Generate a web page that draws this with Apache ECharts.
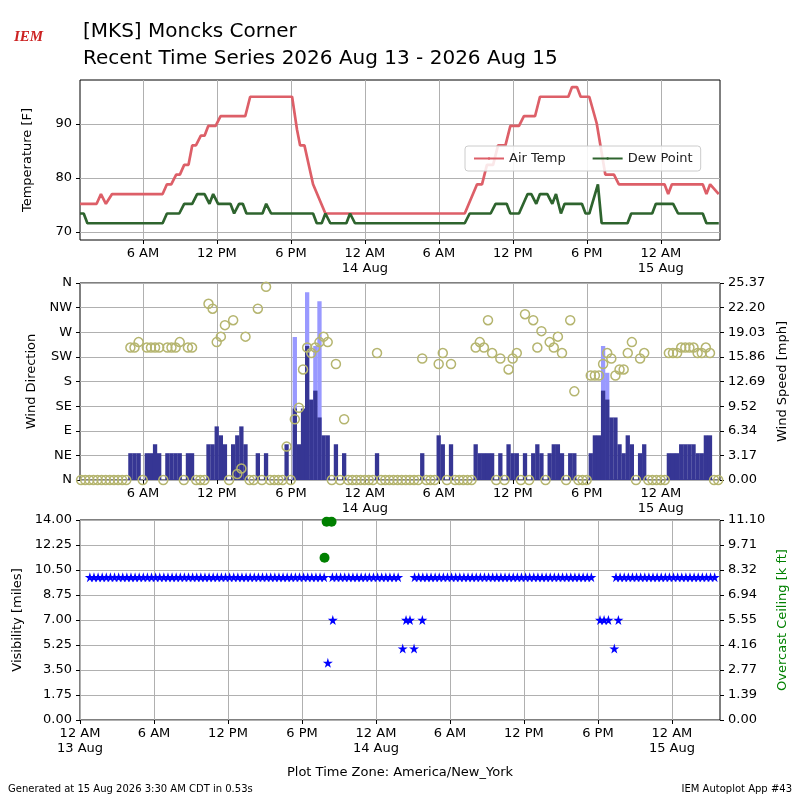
<!DOCTYPE html>
<html>
<head>
<meta charset="utf-8">
<script src="https://cdn.jsdelivr.net/npm/echarts@6/dist/echarts.min.js"></script>
<style>
  html, body { margin: 0; padding: 0; background: #fff; }
  #chart { width: 800px; height: 800px; }
</style>
</head>
<body>
<div id="chart"></div>
<script>
// hours after 13 Aug 00:00 (America/New_York)
const tempHour = [0.9,2.25,2.6,3.0,3.5,7.6,7.95,8.3,8.7,9.0,9.35,9.7,10.0,10.3,10.7,11.0,11.3,11.9,12.3,14.3,14.7,18.1,18.5,18.75,19.1,19.8,20.8,32.1,33.1,33.5,33.9,34.4,34.8,35.4,35.8,36.5,36.9,37.8,38.2,40.5,40.8,41.2,41.5,42.2,42.8,43.5,44.2,44.6,48.3,48.6,48.9,51.4,51.7,52.0,52.7];
const tempF = [75.2,75.2,77,75.2,77,77,78.8,78.8,80.6,80.6,82.4,82.4,86,86,87.8,87.8,89.6,89.6,91.4,91.4,95,95,88.9,86,86,78.8,73.4,73.4,78.8,78.8,82.4,82.4,86,86,89.6,89.6,91.4,91.4,95,95,96.8,96.8,95,95,90.1,80.6,80.6,78.8,78.8,77,78.8,78.8,77,78.8,77];
const dewHour = [0.9,1.2,1.5,7.6,7.95,8.95,9.35,10.0,10.4,11.0,11.4,11.7,12.1,13.1,13.4,13.8,14.1,14.4,15.7,16.0,16.4,19.8,20.1,20.5,20.8,21.2,22.5,22.8,23.2,32.1,32.5,34.2,34.6,35.5,35.8,36.5,37.2,37.5,37.9,38.2,38.8,39.2,39.5,39.9,40.2,41.6,41.9,42.2,42.9,43.2,45.3,45.6,47.3,47.6,49.0,49.4,51.4,51.7,52.7];
const dewF = [73.4,73.4,71.6,71.6,73.4,73.4,75.2,75.2,77,77,75.2,77,75.2,75.2,73.4,75.2,75.2,73.4,73.4,75.2,73.4,73.4,71.6,71.6,73.4,71.6,71.6,73.4,71.6,71.6,73.4,73.4,75.2,75.2,73.4,73.4,77,77,75.2,77,77,75.2,77,73.4,75.2,75.2,73.4,73.4,78.8,71.6,71.6,73.4,73.4,75.2,75.2,73.4,73.4,71.6,71.6];

// wind obs every 20 minutes starting at windStart
const windStart = 0.987;
const windKt = [0,0,0,0,0,0,0,0,0,0,0,0,3,3,3,0,3,3,4,3,0,3,3,3,3,0,3,3,0,0,0,4,4,6,5,4,0,4,5,6,4,0,0,3,0,3,0,0,0,0,4,0,8,4,8,15,9,10,7,5,5,0,4,0,3,0,0,0,0,0,0,0,3,0,0,0,0,0,0,0,0,0,0,3,0,0,0,5,4,0,4,0,0,0,0,0,4,3,3,3,3,0,3,0,4,3,3,0,3,0,3,4,3,0,3,4,4,3,0,3,3,0,0,0,3,5,5,10,9,7,7,4,3,5,4,0,3,4,0,0,0,0,0,3,3,3,4,4,4,4,3,3,5,5,0,0];
const windDir = [0,0,0,0,0,0,0,0,0,0,0,0,242,242,252,0,242,242,242,242,0,242,242,242,252,0,242,242,0,0,0,322,313,252,262,283,0,292,11,21,262,0,0,313,0,353,0,0,0,0,61,0,111,132,202,242,232,242,252,262,252,0,212,0,111,0,0,0,0,0,0,0,232,0,0,0,0,0,0,0,0,0,0,222,0,0,0,212,232,0,212,0,0,0,0,0,242,252,242,292,232,0,222,0,202,222,232,0,303,0,292,242,272,0,252,242,262,232,0,292,162,0,0,0,191,191,191,212,232,222,191,202,202,232,252,0,222,232,0,0,0,0,0,232,232,232,242,242,242,242,232,232,242,232,0,0];
const gustSlot = [52,55,57,58,127,128];
const gustKt = [16,21,15,20,15,12];

// visibility: regular obs every 20 minutes, A = 10 miles, - = missing
const visStart = 0.8;
const visCodes = [
  'AAAAAAAAAAAAAAAAAAAAAAAAAAAAAAAAAAAAAAAAAAAAAAAAAAAAAAAAAA',
  '-',
  'AAAAAAAAAAAAAAAAA',
  '---',
  'AAAAAAAAAAAAAAAAAAAAAAAAAAAAAAAAAAAAAAAAAAAA',
  '-----',
  'AAAAAAAAAAAAAAAAAAAAAAAAA'
].join('');
const visSpecialHour = [20.1,20.5,26.17,26.44,26.76,27.09,27.76,42.17,42.5,42.85,43.33,43.66];
const visSpecialMiles = [4,7,5,7,7,5,7,7,7,7,5,7];
const ceilHour = [19.83,20.0,20.4];
const ceilKft = [9.0,11.0,11.0];

const hourTicks = [6,12,18,24,30,36,42,48];
const hourTicksBottom = [0,6,12,18,24,30,36,42,48];
const dirLabels = ['N','NE','E','SE','S','SW','W','NW','N'];
const speedTicks = ['0.00','3.17','6.34','9.52','12.69','15.86','19.03','22.20','25.37'];
const ceilTicks = ['0.00','1.39','2.77','4.16','5.55','6.94','8.32','9.71','11.10'];
const visTicks = ['0.00','1.75','3.50','5.25','7.00','8.75','10.50','12.25','14.00'];

const KT2MPH = 1.15078;
const FONT = 'DejaVu Sans';
const STAR = 'path://M50,0 L61,35 L98,35 L68,57 L79,91 L50,70 L21,91 L32,57 L2,35 L39,35 Z';

function hourLabel(h) {
  const r = Math.round(h) % 24;
  if (r === 0) return '12 AM\n' + (13 + Math.round(h) / 24) + ' Aug';
  return r === 6 ? '6 AM' : r === 12 ? '12 PM' : '6 PM';
}

const lab = { color: '#000', fontFamily: FONT, fontSize: 13 };

function xAxis(idx, min, max, ticks) {
  return {
    type: 'value', gridIndex: idx, min: min, max: max,
    axisLine: { show: false },
    axisTick: { show: true, length: 4, lineStyle: { color: '#000' }, customValues: ticks },
    axisLabel: Object.assign({ customValues: ticks, formatter: hourLabel, lineHeight: 15, margin: 6 }, lab),
    splitLine: { show: true, lineStyle: { color: '#b0b0b0', width: 1 } }
  };
}

function yAxis(idx, pos, min, max, interval, labels, name, gap, color) {
  return {
    type: 'value', gridIndex: idx, position: pos, min: min, max: max, interval: interval,
    name: name, nameLocation: 'middle', nameGap: gap, nameRotate: 90,
    nameTextStyle: { color: color || '#000', fontFamily: FONT, fontSize: 13 },
    axisLine: { show: false },
    axisTick: { show: true, length: 4, lineStyle: { color: '#000' } },
    axisLabel: Object.assign({
      formatter: (v) => labels[Math.round((v - min) / interval)]
    }, lab),
    splitLine: { show: pos === 'left', lineStyle: { color: '#b0b0b0', width: 1 } }
  };
}

const tempAxis = {
  type: 'value', gridIndex: 0, min: 68.5, max: 98.1,
  name: 'Temperature [F]', nameLocation: 'middle', nameGap: 46, nameRotate: 90,
  nameTextStyle: { color: '#000', fontFamily: FONT, fontSize: 13 },
  axisLine: { show: false },
  axisTick: { show: true, length: 4, lineStyle: { color: '#000' }, customValues: [70, 80, 90] },
  axisLabel: Object.assign({ customValues: [70, 80, 90] }, lab),
  splitLine: { show: true, lineStyle: { color: '#b0b0b0', width: 1 } }
};

const speedData = windKt.map((k, i) => [windStart + i / 3, k * KT2MPH]);
const gustData = gustSlot.map((s, i) => [windStart + s / 3, gustKt[i] * KT2MPH]);
const dirData = windDir.map((d, i) => [windStart + i / 3, d]);
const visData = [];
visCodes.split('').forEach((c, i) => { if (c === 'A') visData.push([visStart + i / 3, 10]); });
const visSpecial = visSpecialHour.map((h, i) => [h, visSpecialMiles[i]]);

const option = {
  animation: false,
  textStyle: { fontFamily: FONT },
  title: [
    { text: '[MKS] Moncks Corner', left: 78, top: 17, textStyle: { fontFamily: FONT, fontSize: 20, fontWeight: 'normal', color: '#000' } },
    { text: 'Recent Time Series 2026 Aug 13 - 2026 Aug 15', left: 78, top: 44, textStyle: { fontFamily: FONT, fontSize: 20, fontWeight: 'normal', color: '#000' } }
  ],
  legend: {
    data: ['Air Temp', 'Dew Point'], left: 465, top: 146, itemWidth: 30, itemHeight: 3, itemGap: 26,
    backgroundColor: 'rgba(255,255,255,0.85)', borderColor: '#ccc', borderWidth: 1, borderRadius: 3, padding: [6, 8],
    textStyle: { fontFamily: FONT, fontSize: 13, color: '#222' }
  },
  graphic: [
    { type: 'text', left: 14, top: 30, style: { text: 'IEM', fill: '#cc2222', font: 'italic bold 15px "Liberation Serif"' } },
    { type: 'text', left: 'center', top: 766, style: { text: 'Plot Time Zone: America/New_York', fill: '#000', font: '13px "DejaVu Sans"' } },
    { type: 'text', left: 8, top: 784, style: { text: 'Generated at 15 Aug 2026 3:30 AM CDT in 0.53s', fill: '#000', font: '10px "DejaVu Sans"' } },
    { type: 'text', right: 8, top: 784, style: { text: 'IEM Autoplot App #43', fill: '#000', font: '10px "DejaVu Sans"' } }
  ],
  grid: [
    { left: 80, right: 80, top: 80, height: 160, show: true, borderColor: '#000', borderWidth: 1 },
    { left: 80, right: 80, top: 283, height: 197, show: true, borderColor: '#000', borderWidth: 1 },
    { left: 80, right: 80, top: 520, height: 200, show: true, borderColor: '#000', borderWidth: 1 }
  ],
  xAxis: [
    xAxis(0, 0.9, 52.8, hourTicks),
    xAxis(1, 0.9, 52.8, hourTicks),
    xAxis(2, 0, 51.9, hourTicksBottom)
  ],
  yAxis: [
    tempAxis,
    yAxis(1, 'left', 0, 360, 45, dirLabels, 'Wind Direction', 36),
    yAxis(1, 'right', 0, 25.37, 3.17125, speedTicks, 'Wind Speed [mph]', 50),
    yAxis(2, 'left', 0, 14, 1.75, visTicks, 'Visibility [miles]', 52),
    yAxis(2, 'right', 0, 11.1, 1.3875, ceilTicks, 'Overcast Ceiling [k ft]', 52, '#008000')
  ],
  series: [
    { name: 'Air Temp', type: 'line', xAxisIndex: 0, yAxisIndex: 0, showSymbol: false, symbol: 'none',
      data: tempHour.map((h, i) => [h, tempF[i]]), lineStyle: { color: '#dd5f68', width: 2.7 }, itemStyle: { color: '#dd5f68' } },
    { name: 'Dew Point', type: 'line', xAxisIndex: 0, yAxisIndex: 0, showSymbol: false, symbol: 'none',
      data: dewHour.map((h, i) => [h, dewF[i]]), lineStyle: { color: '#2e642e', width: 2.7 }, itemStyle: { color: '#2e642e' } },
    { type: 'bar', xAxisIndex: 1, yAxisIndex: 2, data: gustData, barWidth: 4.3, barGap: '-100%',
      itemStyle: { color: '#9999ff' }, z: 2 },
    { type: 'bar', xAxisIndex: 1, yAxisIndex: 2, data: speedData, barWidth: 4.3, barGap: '-100%',
      itemStyle: { color: '#363694' }, z: 3 },
    { type: 'scatter', xAxisIndex: 1, yAxisIndex: 1, data: dirData, symbol: 'circle', symbolSize: 9,
      itemStyle: { color: 'rgba(0,0,0,0)', borderColor: '#b5b56f', borderWidth: 1.5, opacity: 1 }, z: 4, clip: false },
    { type: 'scatter', xAxisIndex: 2, yAxisIndex: 3, data: visData.concat(visSpecial), symbol: STAR, symbolSize: 10,
      itemStyle: { color: '#0000ff', opacity: 1 }, z: 4 },
    { type: 'scatter', xAxisIndex: 2, yAxisIndex: 4, data: ceilHour.map((h, i) => [h, ceilKft[i]]), symbol: 'circle', symbolSize: 10,
      itemStyle: { color: '#008000', opacity: 1 }, z: 4 }
  ]
};

echarts.init(document.getElementById('chart')).setOption(option);
</script>
</body>
</html>
